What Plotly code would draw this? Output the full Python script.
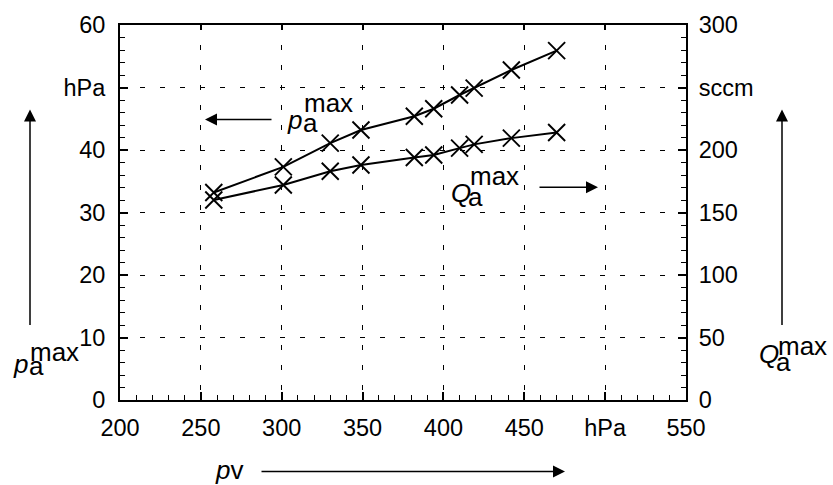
import plotly.graph_objects as go

# ---- data ----
pv = [258, 301, 330, 349, 382, 394, 410, 419, 442, 470]          # hPa
pa_max = [33.2, 37.3, 41.1, 43.2, 45.4, 46.6, 48.8, 49.9, 52.8, 55.9]  # hPa
qa_max = [160, 172, 183, 188, 194, 196, 201.5, 204.5, 209.5, 214]      # sccm

x_tickvals = [200, 250, 300, 350, 400, 450, 500, 550]
x_ticktext = ["200", "250", "300", "350", "400", "450", "hPa", "550"]
y_tickvals = [0, 10, 20, 30, 40, 50, 60]
y_ticktext = ["0", "10", "20", "30", "40", "hPa", "60"]
q_tickvals = [0, 50, 100, 150, 200, 250, 300]
q_ticktext = ["0", "50", "100", "150", "200", "sccm", "300"]

# ---- layout geometry ----
W, H = 833, 485
ML, MR, MT, MB = 120, 147, 23, 85
FONT = "Liberation Sans, Arial, Helvetica, sans-serif"
TICK_SIZE = 23.5
LABEL_SIZE = 26


def paper_x(px):
    return (px - ML) / (W - ML - MR)


def paper_y(py):
    return (H - MB - py) / (H - MT - MB)


fig = go.Figure()
marker = dict(symbol="x-thin-open", size=17, color="black", line=dict(color="black", width=1.9))
fig.add_trace(go.Scatter(x=pv, y=pa_max, mode="lines+markers", line=dict(color="black", width=2),
                         marker=marker, xaxis="x", yaxis="y", showlegend=False, hoverinfo="skip"))
fig.add_trace(go.Scatter(x=pv, y=qa_max, mode="lines+markers", line=dict(color="black", width=2),
                         marker=marker, xaxis="x", yaxis="y2", showlegend=False, hoverinfo="skip"))
# invisible trace so the top (mirror-tick) axis is drawn
fig.add_trace(go.Scatter(x=[x_tickvals[0]], y=[y_tickvals[0]], mode="markers", marker=dict(opacity=0),
                         xaxis="x2", yaxis="y", showlegend=False, hoverinfo="skip"))

axis_common = dict(ticks="inside", tickcolor="black", tickwidth=1.5, ticklen=8,
                   showline=True, linecolor="black", linewidth=2, zeroline=False,
                   tickfont=dict(family=FONT, size=TICK_SIZE, color="black"))
grid = dict(showgrid=True, gridcolor="black", gridwidth=1.3, griddash="5px,15px")

fig.update_layout(
    width=W, height=H,
    margin=dict(l=ML, r=MR, t=MT, b=MB, pad=0),
    paper_bgcolor="white", plot_bgcolor="white",
    font=dict(family=FONT, color="black"),
    xaxis=dict(range=[200, 550], tickmode="array", tickvals=x_tickvals, ticktext=x_ticktext,
               mirror=True, ticklabelstandoff=6,
               minor=dict(ticks="inside", tickmode="linear", tick0=200, dtick=10, ticklen=5,
                          tickwidth=1.2, tickcolor="black", showgrid=False),
               **grid, **axis_common),
    xaxis2=dict(range=[200, 550], overlaying="x", side="top", anchor="y", tickmode="array",
                tickvals=x_tickvals, ticks="inside", ticklen=5, tickwidth=1.5, tickcolor="black",
                showticklabels=False, showgrid=False, showline=False, zeroline=False),
    yaxis=dict(range=[0, 60], tickmode="array", tickvals=y_tickvals, ticktext=y_ticktext,
               mirror=True, ticklabelstandoff=8,
               minor=dict(ticks="inside", tickmode="linear", tick0=0, dtick=2, ticklen=5,
                          tickwidth=1.2, tickcolor="black", showgrid=False),
               **grid, **axis_common),
    yaxis2=dict(range=[0, 300], overlaying="y", side="right", anchor="x", tickmode="array",
                tickvals=q_tickvals, ticktext=q_ticktext, showgrid=False, ticklabelstandoff=6,
                minor=dict(ticks="inside", tickmode="linear", tick0=0, dtick=10, ticklen=5,
                           tickwidth=1.2, tickcolor="black", showgrid=False),
                **axis_common),
)


def text(s, px, py, size=LABEL_SIZE):
    fig.add_annotation(text=s, xref="paper", yref="paper", x=paper_x(px), y=paper_y(py),
                       xanchor="left", yanchor="middle", showarrow=False,
                       font=dict(family=FONT, size=size, color="black"))


def arrow(head_px, head_py, tail_px, tail_py):
    fig.add_annotation(text="", xref="paper", yref="paper", x=paper_x(head_px), y=paper_y(head_py),
                       ax=tail_px - head_px, ay=tail_py - head_py, axref="pixel", ayref="pixel",
                       showarrow=True, arrowhead=2, arrowsize=1.6, arrowwidth=1.5,
                       arrowcolor="black", standoff=0, startstandoff=0)


# left outer label p_a^max with upward arrow
text("<i>p</i>", 11, 364)
text("a", 27, 366)
text("max", 28, 352)
arrow(30, 108, 30, 325)

# right outer label Q_a^max with upward arrow
text("<i>Q</i>", 757, 354)
text("a", 774, 362)
text("max", 776, 346)
arrow(782, 108, 782, 325)

# inner label p_a^max with leftward arrow
text("<i>p</i>", 285, 119)
text("a", 301, 122)
text("max", 302, 101)
arrow(205, 118, 273, 118)

# inner label Q_a^max with rightward arrow
text("<i>Q</i>", 449, 192)
text("a", 466, 196)
text("max", 468, 175)
arrow(598, 186, 538, 186)

# bottom label p_v with rightward arrow
text("<i>p</i>v", 213, 470)
arrow(565, 472, 260, 472)

fig.write_html("out.html")
